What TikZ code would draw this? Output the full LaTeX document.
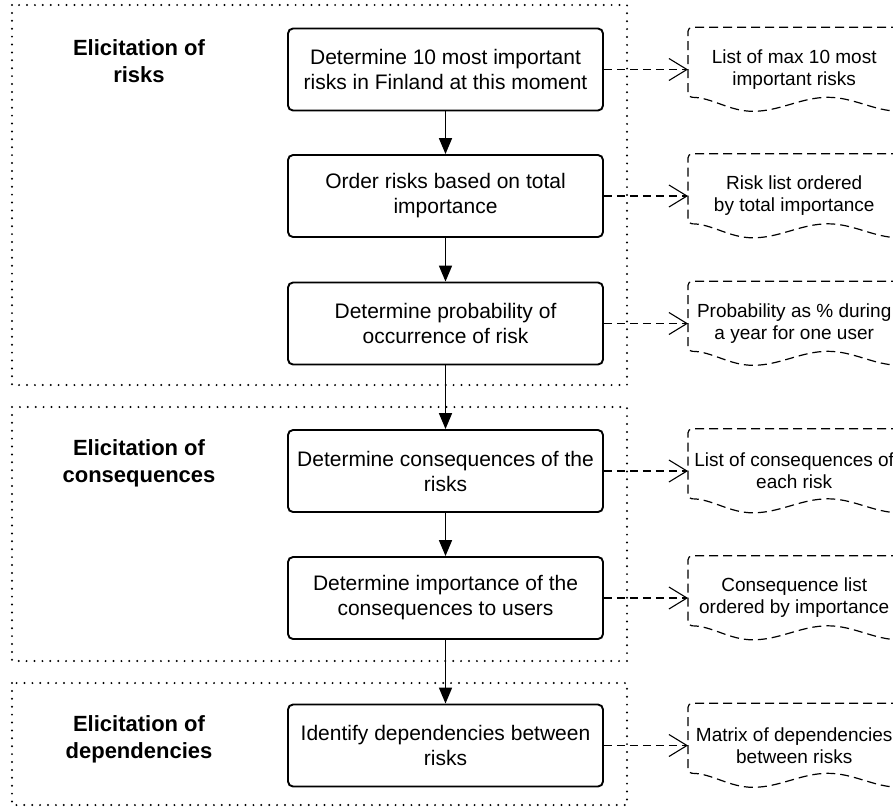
\documentclass[tikz,border=0pt]{standalone}
\usepackage{fontspec}
\setmainfont{Liberation Sans}
\usetikzlibrary{arrows.meta}
\newcommand\docshape[1]{%
  \begin{scope}[shift={(#1.north west)}]
    \draw[docline] (240,0) -- (4,0) [rounded corners=4pt] -- (0,0) -- (0,70) [sharp corners]
      .. controls (24,70) and (41,84) .. (65,84)
      .. controls (92,84) and (113,70) .. (140,70)
      .. controls (166,70) and (186,84) .. (212,84);
  \end{scope}}
\begin{document}
\begin{tikzpicture}[x=1pt,y=-1pt,
  procbox/.style={draw, line width=1.9pt, rounded corners=5pt, minimum width=315pt,
    minimum height=82pt, align=center, inner sep=0pt, font=\fontsize{21}{25}\selectfont},
  docnode/.style={minimum width=212pt, minimum height=84pt, align=center, inner sep=0pt,
    font=\fontsize{19}{22}\selectfont},
  grp/.style={line width=2.2pt, dash pattern=on 0pt off 7.9pt, line cap=round},
  lbl/.style={font=\bfseries\fontsize{22}{27}\selectfont, align=center, inner sep=0pt, anchor=north},
  flowarrow/.style={line width=1.7pt, -{Triangle[length=16pt,width=13pt]}},
  outarrow/.style={line width=1.1pt, dash pattern=on 8pt off 5pt, -{Straight Barb[length=18pt,width=22pt]}},
  docline/.style={line width=1.2pt, dash pattern=on 9pt off 5pt}]
\useasboundingbox (0,0) rectangle (893,807);
\clip (0,0) rectangle (893,807);
\fill[white] (0,0) rectangle (893,807);

% groups
\draw[grp] (12,5) rectangle (627,385);
\draw[grp] (12,407) rectangle (627,661);
\draw[grp] (12,683) rectangle (627,805);

% labels
\node[lbl] (l1) at (139,39) {Elicitation of\\risks};
\node[lbl] (l2) at (139,439) {Elicitation of\\consequences};
\node[lbl] (l3) at (139,715) {Elicitation of\\dependencies};

% process boxes
\node[procbox] (b1) at (445.5,69.5) {Determine 10 most important\\risks in Finland at this moment};
\node[procbox] (b2) at (445.5,196) {Order risks based on total\\importance};
\node[procbox] (b3) at (445.5,323.5) {Determine probability of\\occurrence of risk};
\node[procbox] (b4) at (445.5,471) {Determine consequences of the\\risks};
\node[procbox] (b5) at (445.5,598) {Determine importance of the\\consequences to users};
\node[procbox] (b6) at (445.5,745.5) {Identify dependencies between\\risks};

% documents
\node[docnode, anchor=west] (d1) at (688,69.5) {List of max 10 most\\important risks};
\node[docnode, anchor=west] (d2) at (688,196) {Risk list ordered\\by total importance};
\node[docnode, anchor=west] (d3) at (688,323.5) {Probability as \% during\\a year for one user};
\node[docnode, anchor=west] (d4) at (688,471) {List of consequences of\\each risk};
\node[docnode, anchor=west] (d5) at (688,598) {Consequence list\\ordered by importance};
\node[docnode, anchor=west] (d6) at (688,745.5) {Matrix of dependencies\\between risks};
\foreach \d in {d1,d2,d3,d4,d5,d6} {\docshape{\d}}

% flow arrows
\draw[flowarrow] (b1) -- (b2);
\draw[flowarrow] (b2) -- (b3);
\draw[flowarrow] (b3) -- (b4);
\draw[flowarrow] (b4) -- (b5);
\draw[flowarrow] (b5) -- (b6);

% output arrows
\foreach \i in {1,...,6} {\draw[outarrow] (b\i.east) -- (b\i.east -| d\i.west);}
\end{tikzpicture}
\end{document}
